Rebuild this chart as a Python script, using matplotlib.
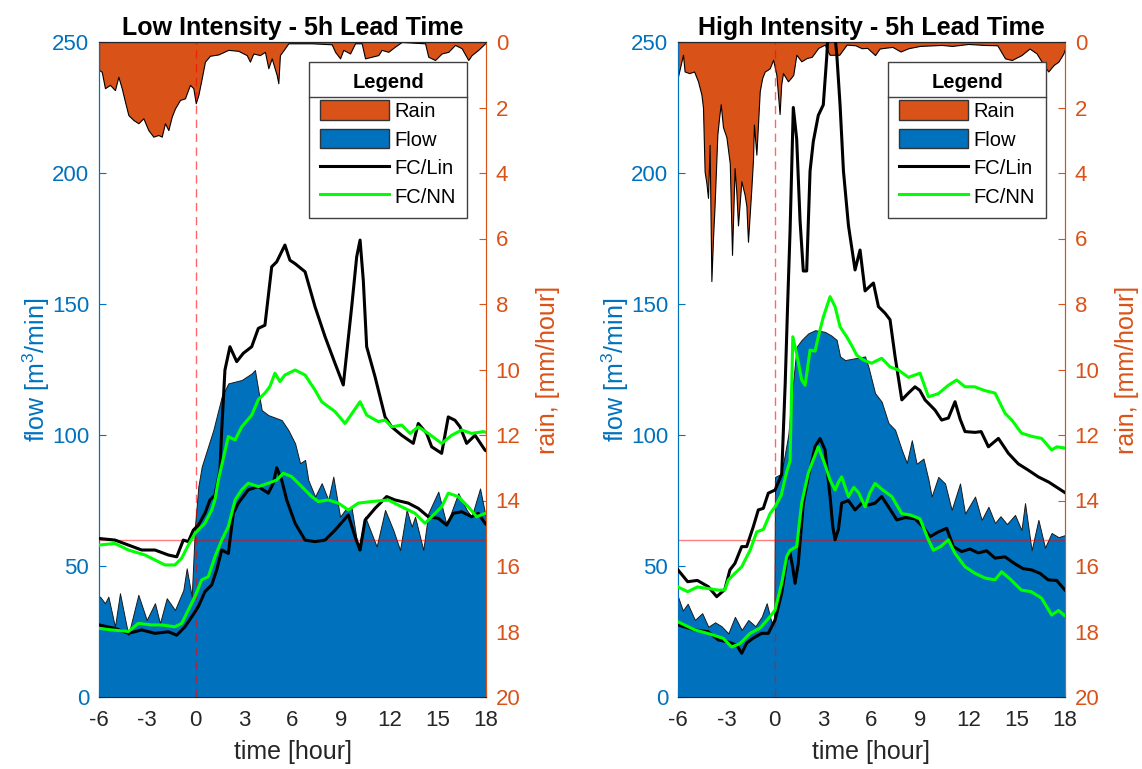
import numpy as np
import matplotlib
matplotlib.use('Agg')
import matplotlib.pyplot as plt
from matplotlib.patches import Patch
from matplotlib.lines import Line2D

plt.rcParams['font.family'] = ['Liberation Sans', 'DejaVu Sans']
plt.rcParams['mathtext.default'] = 'regular'
plt.rcParams['axes.unicode_minus'] = False

BLUE = '#0072BD'
ORANGE = '#D95319'
GREEN = '#00FF00'

# ---- data, (time [h], value) pairs ----
# Low intensity event
low_rain = [(-6.0, 0.85), (-5.83, 0.91), (-5.63, 1.41), (-5.32, 1.31), (-5.01, 1.47), (-4.80, 1.06),
            (-4.59, 1.41), (-4.39, 1.82), (-4.18, 2.23), (-3.87, 2.38), (-3.56, 2.48), (-3.25, 2.33),
            (-2.94, 2.69), (-2.63, 2.89), (-2.32, 2.84), (-2.11, 2.89), (-1.91, 2.48), (-1.70, 2.69),
            (-1.49, 2.28), (-1.29, 2.03), (-0.98, 1.77), (-0.67, 1.72), (-0.36, 1.31), (-0.15, 1.41),
            (0.0, 1.87), (0.16, 1.62), (0.37, 1.11), (0.57, 0.60), (0.88, 0.42), (1.40, 0.38),
            (2.02, 0.24), (2.64, 0.27), (3.16, 0.40), (3.36, 0.60), (3.57, 0.35), (3.98, 0.40),
            (4.29, 0.30), (4.50, 0.80), (4.71, 0.50), (5.02, 1.01), (5.12, 1.26), (5.22, 0.40),
            (5.53, 0.19), (5.74, 0.04), (7.19, 0.04), (8.43, 0.07), (8.64, 0.30), (8.95, 0.50),
            (9.15, 0.24), (9.57, 0.35), (9.88, 0.04), (10.29, 0.04), (10.50, 0.50), (10.91, 0.45),
            (11.32, 0.40), (11.53, 0.24), (11.94, 0.30), (12.36, 0.14), (12.77, 0.0), (14.22, 0.04),
            (14.42, 0.45), (14.84, 0.55), (15.25, 0.35), (15.66, 0.30), (16.08, 0.09), (16.49, 0.19),
            (16.90, 0.55), (17.11, 0.40), (17.52, 0.24), (17.94, 0.04), (18.0, 0.02)]
low_flow = [(-6.0, 38), (-5.94, 38.3), (-5.63, 35.8), (-5.42, 38.3), (-5.01, 26.8), (-4.70, 39.6),
            (-4.18, 23.6), (-3.56, 39.0), (-3.04, 29.4), (-2.53, 35.8), (-2.22, 28.1), (-1.80, 37.7),
            (-1.29, 33.2), (-0.77, 40.8), (-0.56, 49.1), (-0.25, 38.3), (-0.05, 65.0), (0.16, 80.3),
            (0.37, 87.9), (1.09, 101.9), (1.61, 114.6), (2.02, 119.7), (2.85, 121), (3.47, 123.5),
            (3.67, 124.8), (3.88, 117.1), (4.09, 109.5), (4.50, 107.6), (5.33, 105.7), (5.74, 101.9),
            (6.16, 96.8), (6.47, 89.2), (6.78, 90.5), (6.98, 82.8), (7.40, 76.5), (7.81, 81.6),
            (8.22, 75.2), (8.53, 84.1), (8.95, 68.8), (9.26, 71.4), (9.67, 72.0), (10.08, 56.1),
            (10.50, 68.8), (11.22, 57.4), (11.74, 71.4), (12.25, 63.7), (12.67, 56.1), (13.08, 71.4),
            (13.39, 65), (13.60, 68.8), (14.11, 56.1), (14.42, 70.1), (15.04, 78.4), (15.56, 65.6),
            (16.28, 77.8), (16.80, 71.4), (17.11, 68.8), (17.63, 79.6), (17.94, 70.1), (18.0, 69)]
low_lin_up = [(-6.0, 60.5), (-5.01, 59.9), (-4.18, 58.0), (-3.35, 56.1), (-2.53, 56.1), (-1.70, 54.2),
              (-1.18, 53.5), (-0.77, 59.9), (-0.46, 59.3), (-0.15, 63.7), (0.16, 65.6), (0.57, 70.1),
              (0.88, 75.2), (1.19, 77.1), (1.50, 86.6), (1.61, 101.9), (1.81, 124.8), (2.12, 133.7),
              (2.54, 128), (2.95, 131.2), (3.47, 133.7), (3.88, 140.7), (4.29, 141.9), (4.71, 164.2),
              (5.02, 166.1), (5.53, 172.5), (5.84, 166.7), (6.16, 165.4), (6.78, 162.3), (7.40, 148.9),
              (8.02, 137.5), (8.64, 127.3), (9.15, 119.1), (9.67, 148.9), (9.98, 168), (10.19, 174.4),
              (10.39, 159.1), (10.60, 133.7), (11.12, 122.2), (11.74, 106.9), (12.15, 103.1),
              (12.77, 99.9), (13.49, 96.8), (13.80, 104.4), (14.32, 100.6), (14.63, 95.5), (15.25, 93),
              (15.66, 106.9), (16.08, 105.6), (16.39, 103.1), (16.80, 96.8), (17.32, 99.9),
              (17.94, 94.2), (18.0, 94)]
low_lin_lo = [(-6.0, 27.5), (-5.01, 26.2), (-4.18, 24.3), (-3.35, 25.6), (-2.53, 24.3), (-1.70, 24.9),
              (-1.18, 23.6), (-0.67, 26.8), (-0.25, 30.6), (0.16, 34.5), (0.57, 40.2), (0.99, 42.8),
              (1.30, 48.5), (1.61, 56.1), (2.02, 54.8), (2.33, 70.1), (2.64, 74), (3.26, 79.1),
              (3.88, 80.3), (4.50, 77.8), (4.81, 81.6), (5.02, 87.5), (5.33, 82.8), (5.64, 75.2),
              (6.16, 66.3), (6.78, 59.9), (7.40, 59.3), (8.02, 59.9), (8.64, 63.7), (9.46, 69.5),
              (9.88, 61.2), (10.19, 56.1), (10.50, 67.5), (11.12, 72.0), (11.84, 76.5), (12.36, 75.2),
              (13.18, 74), (13.80, 72.0), (14.42, 68.8), (15.04, 68.2), (15.56, 65.6), (15.97, 70.1),
              (16.49, 70.7), (17.11, 68.8), (17.52, 70.1), (17.94, 66.3), (18.0, 66)]
low_nn_up = [(-6.0, 58.0), (-5.01, 58.6), (-4.18, 56.1), (-3.15, 54.2), (-2.53, 52.3), (-1.91, 50.4),
             (-1.29, 50.4), (-0.87, 53), (-0.46, 58.0), (-0.05, 62.4), (0.57, 66.3), (0.99, 71.4),
             (1.19, 75.2), (1.40, 82.8), (2.02, 99.4), (2.44, 98.1), (2.85, 103.1), (3.47, 107.6),
             (3.88, 113.5), (4.29, 116), (4.60, 118.5), (4.91, 123.6), (5.22, 120.4), (5.53, 122.9),
             (6.16, 124.8), (6.78, 122.9), (7.40, 117.1), (7.81, 112.7), (8.64, 108.9), (9.26, 104.4),
             (10.19, 112.7), (10.60, 107.6), (11.32, 105.1), (11.74, 105.7), (12.15, 103.1),
             (12.77, 103.8), (13.29, 100.6), (13.80, 103.1), (14.42, 100.6), (15.25, 96.8),
             (15.87, 99.9), (16.49, 101.9), (17.11, 100.6), (17.83, 101.3), (18.0, 101)]
low_nn_lo = [(-6.0, 26.2), (-5.21, 25.6), (-4.18, 25), (-3.56, 28.1), (-2.73, 27.5), (-2.11, 27.5),
             (-1.29, 26.8), (-0.87, 28.1), (-0.46, 33.2), (-0.05, 38.3), (0.37, 44.7), (0.78, 45.9),
             (1.19, 53.5), (1.61, 59.9), (2.02, 65.0), (2.44, 75.2), (2.85, 79.1), (3.26, 81.6),
             (3.88, 80.3), (4.50, 81.6), (5.02, 82.8), (5.43, 85.4), (5.95, 84.1), (6.57, 80.3),
             (7.19, 76.5), (7.60, 74.6), (8.22, 75.2), (8.84, 74), (9.46, 71.4), (10.08, 74),
             (10.91, 74.6), (11.94, 75.2), (12.77, 72.6), (13.60, 70.1), (14.22, 66.3), (14.63, 68.8),
             (15.25, 72.6), (15.66, 77.8), (16.28, 76.5), (16.90, 72.6), (17.42, 68.8), (17.94, 70.1),
             (18.0, 70)]

# High intensity event
high_rain = [(-6.0, 1.05), (-5.69, 0.39), (-5.59, 0.9), (-5.3, 0.95), (-5.0, 0.9), (-4.76, 1.2),
             (-4.55, 1.6), (-4.45, 2.0), (-4.35, 3.95), (-4.24, 4.3), (-4.14, 4.76), (-4.04, 3.14),
             (-3.93, 7.3), (-3.83, 6.0), (-3.73, 4.97), (-3.56, 2.83), (-3.45, 2.3), (-3.35, 1.9),
             (-3.21, 2.6), (-3.0, 2.9), (-2.79, 3.7), (-2.65, 6.5), (-2.49, 3.85), (-2.38, 4.6),
             (-2.28, 5.6), (-2.07, 4.25), (-1.87, 4.66), (-1.76, 5.0), (-1.66, 6.1), (-1.45, 4.46),
             (-1.35, 3.6), (-1.29, 2.52), (-1.14, 3.44), (-0.93, 1.5), (-0.78, 1.1), (-0.62, 0.9),
             (-0.45, 0.85), (-0.31, 0.8), (-0.1, 0.54), (0.1, 1.0), (0.2, 1.6), (0.3, 2.2), (0.4, 1.3),
             (0.51, 0.95), (0.82, 1.2), (1.0, 1.1), (1.15, 1.0), (1.34, 0.39), (1.65, 0.59),
             (1.98, 0.49), (2.3, 0.45), (2.70, 0.18), (3.1, 0.08), (3.4, 0.39), (4.0, 0.39),
             (4.46, 0.08), (5.0, 0.1), (5.39, 0.19), (5.74, 0.18), (6.22, 0.4), (6.5, 0.2),
             (6.78, 0.18), (7.3, 0.15), (7.8, 0.29), (8.29, 0.19), (9.0, 0.12), (10.35, 0.09),
             (11.0, 0.12), (12.0, 0.06), (13.0, 0.09), (13.8, 0.1), (14.28, 0.5), (14.7, 0.55),
             (15.3, 0.4), (15.8, 0.2), (16.24, 0.35), (16.55, 0.6), (16.96, 0.9), (17.3, 0.7),
             (17.59, 0.6), (17.9, 0.35), (18.0, 0.2)]
high_flow = [(-6.0, 38.3), (-5.7, 33), (-5.4, 35.6), (-4.95, 29.4), (-4.5, 32), (-4.12, 26.8),
             (-3.7, 28.5), (-3.3, 27), (-2.88, 24.3), (-2.47, 30.6), (-2.05, 25.6), (-1.64, 29.4),
             (-1.2, 27), (-0.81, 30.6), (-0.5, 35.8), (-0.19, 28.2), (-0.03, 30), (0.02, 84),
             (0.35, 85), (0.55, 90), (0.84, 100), (1.05, 114.6), (1.36, 133.7), (1.67, 136.3),
             (2.08, 138.8), (2.5, 140), (3.1, 139.4), (3.5, 138), (3.84, 136.3), (4.05, 130),
             (4.36, 128.6), (4.98, 129.3), (5.6, 130), (5.81, 126), (6.22, 116), (6.63, 112.7),
             (7.05, 104.6), (7.46, 102), (7.88, 94.3), (8.19, 89.3), (8.5, 98), (8.8, 89), (9.22, 91),
             (9.53, 83), (9.73, 76.5), (10.14, 84), (10.56, 81.5), (10.97, 71.4), (11.49, 81.5),
             (11.8, 70), (12.42, 76.5), (12.83, 67.6), (13.25, 72.6), (13.66, 66.4), (14.0, 69),
             (14.4, 66), (14.9, 69.5), (15.3, 63.7), (15.52, 74), (15.93, 56), (16.35, 67.6),
             (16.76, 57), (17.17, 62.6), (17.6, 61), (18.0, 61.8)]
high_lin_up = [(-6.0, 48.5), (-5.4, 44), (-4.8, 44.5), (-4.12, 42.1), (-3.6, 38.3), (-3.1, 41),
               (-2.78, 48.5), (-2.47, 51), (-2.05, 57.4), (-1.74, 57.4), (-1.33, 65), (-1.02, 71.4),
               (-0.71, 72), (-0.40, 77.8), (0.02, 79), (0.43, 85), (0.65, 120), (0.8, 150), (0.95, 178),
               (1.15, 225), (1.36, 213), (1.57, 181.7), (1.77, 162.6), (1.98, 162.6), (2.19, 200.8),
               (2.39, 212), (2.70, 222), (3.01, 226), (3.22, 244), (3.35, 258), (3.5, 262), (3.65, 258),
               (3.85, 245), (4.05, 226), (4.26, 200.8), (4.57, 180), (4.98, 163), (5.29, 170.6),
               (5.6, 155), (6.01, 157.4), (6.12, 158), (6.43, 149), (6.84, 146.5), (7.15, 144),
               (7.46, 130), (7.88, 113.4), (8.29, 116), (8.70, 118.4), (9.0, 117), (9.32, 113.4),
               (9.94, 109.5), (10.35, 105.7), (10.77, 106.5), (11.18, 112.7), (11.5, 106),
               (11.8, 101.3), (12.42, 101), (12.8, 101.3), (13.25, 95.5), (13.87, 98.7), (14.49, 93),
               (15.1, 89), (15.72, 86.6), (16.35, 84), (17.0, 82), (18.0, 78)]
high_lin_lo = [(-6.0, 27.5), (-4.95, 25.6), (-4.12, 24.9), (-3.5, 21.8), (-2.9, 21), (-2.36, 19.8),
               (-2.05, 16.7), (-1.74, 20.6), (-1.33, 22.5), (-0.81, 24.3), (-0.4, 24.3), (0.02, 29.4),
               (0.43, 39.6), (0.74, 52.3), (0.95, 54.9), (1.1, 50), (1.26, 43.4), (1.46, 51),
               (1.77, 74), (2.08, 84), (2.5, 95.5), (2.81, 98.7), (3.12, 94.3), (3.32, 82.8),
               (3.43, 76.5), (3.6, 65), (3.74, 60), (3.95, 64), (4.15, 74), (4.57, 75), (4.98, 71.4),
               (5.4, 74), (5.81, 73.3), (6.22, 74), (6.63, 76.5), (7.05, 72.6), (7.57, 67.6),
               (8.1, 68.5), (8.7, 68), (9.22, 64.8), (9.63, 61.2), (10.14, 63), (10.66, 64.4),
               (11.08, 57.4), (11.59, 55.5), (12.1, 56.5), (12.62, 55), (13.14, 55.8), (13.66, 53),
               (14.28, 53.5), (14.9, 50.8), (15.4, 49), (15.93, 48.5), (16.45, 47.2), (16.96, 44.7),
               (17.48, 44.5), (18.0, 40.8)]
high_nn_up = [(-6.0, 42), (-5.4, 40.2), (-4.8, 42), (-4.12, 41.4), (-3.5, 40.8), (-3.1, 40.8),
              (-2.88, 44.7), (-2.47, 47.2), (-2.05, 49.7), (-1.53, 56), (-1.12, 63), (-0.7, 64),
              (-0.29, 70), (0.02, 72.6), (0.4, 77), (0.74, 86), (0.95, 90), (1.12, 137.5), (1.36, 131),
              (1.67, 121), (1.88, 119), (2.19, 132.4), (2.5, 132), (2.70, 137.5), (3.01, 145),
              (3.43, 152.8), (3.74, 149), (4.05, 141.3), (4.46, 137.5), (4.77, 134.2), (5.08, 130.5),
              (5.5, 128.6), (6.01, 127.4), (6.63, 129.3), (7.15, 126), (7.67, 124.8), (8.29, 122),
              (9.01, 123.6), (9.53, 114.6), (10.15, 115.8), (10.77, 119), (11.28, 121), (11.8, 118.4),
              (12.4, 118.4), (13.0, 117), (13.66, 116), (14.28, 108.3), (14.7, 105.7), (15.3, 100.7),
              (15.93, 99.5), (16.55, 98.7), (17.17, 94.3), (17.5, 95.5), (18.0, 95)]
high_nn_lo = [(-6.0, 28.7), (-4.95, 25.6), (-4.0, 24), (-3.2, 22.4), (-2.67, 19.1), (-2.15, 20.4),
              (-1.53, 24.3), (-0.91, 26.3), (-0.29, 30.7), (0.02, 33.2), (0.43, 43.4), (0.74, 53.6),
              (0.95, 56), (1.36, 57.4), (1.67, 74), (2.08, 85.4), (2.29, 89), (2.70, 95.5), (3.1, 89),
              (3.43, 82.8), (3.74, 79), (3.95, 82), (4.15, 84), (4.57, 76.5), (4.9, 80), (5.2, 78),
              (5.6, 72.6), (5.9, 78), (6.22, 81.5), (6.7, 79), (7.26, 76.5), (7.88, 70), (8.4, 69.5),
              (9.01, 68), (9.53, 60), (9.84, 56), (10.3, 57.5), (10.77, 60), (11.18, 54.8),
              (11.8, 49.7), (12.42, 47.2), (13.04, 45.4), (13.66, 44.7), (14.07, 47.8), (14.6, 45),
              (15.3, 40.8), (15.9, 40.2), (16.55, 37.7), (17.17, 31.3), (17.6, 33), (18.0, 31)]

titles = ['Low Intensity - 5h Lead Time', 'High Intensity - 5h Lead Time']
xticks = list(range(-6, 19, 3))
flow_ticks = [0, 50, 100, 150, 200, 250]
rain_ticks = list(range(0, 21, 2))
threshold = 60


def xy(pairs):
    a = np.array(pairs, dtype=float)
    return a[:, 0], a[:, 1]


def panel(rect, title, rain, flow, lin_up, lin_lo, nn_up, nn_lo):
    ax_r = fig.add_axes(rect)
    ax_f = ax_r.twinx()
    # rain axis on the right (drawn below), flow axis on the left (drawn on top)
    ax_r.yaxis.tick_right()
    ax_r.yaxis.set_label_position('right')
    ax_f.yaxis.tick_left()
    ax_f.yaxis.set_label_position('left')

    t, r = xy(rain)
    ax_r.fill_between(t, 0, r, facecolor=ORANGE, edgecolor='k', linewidth=0.8)
    ax_r.set_ylim(20, 0)
    ax_r.set_xlim(-6, 18)
    ax_r.set_xticks(xticks)
    ax_r.set_yticks(rain_ticks)

    t, f = xy(flow)
    ax_f.fill_between(t, 0, f, facecolor=BLUE, edgecolor='#1a1a1a', linewidth=0.7, zorder=1)
    ax_f.axhline(threshold, color='red', alpha=0.5, lw=1, zorder=1.5)
    ax_f.axvline(0, color='red', alpha=0.6, lw=1, ls=(0, (6, 4)), zorder=1.5)
    for s in (lin_up, lin_lo):
        ax_f.plot(*xy(s), color='k', lw=2.2, zorder=3)
    for s in (nn_up, nn_lo):
        ax_f.plot(*xy(s), color=GREEN, lw=2.2, zorder=3)
    ax_f.set_ylim(0, 250)
    ax_f.set_yticks(flow_ticks)
    ax_f.set_xlim(-6, 18)

    for a in (ax_r, ax_f):
        a.spines['left'].set_color(BLUE)
        a.spines['right'].set_color(ORANGE)
        a.spines['top'].set_color('#262626')
        a.spines['bottom'].set_color('#262626')
    ax_r.tick_params(axis='x', direction='in', colors='#262626', labelsize=16, length=5, pad=9)
    ax_r.tick_params(axis='y', direction='in', colors=ORANGE, labelsize=16, length=5, pad=7)
    ax_f.tick_params(axis='y', direction='in', colors=BLUE, labelsize=16, length=5, pad=7)

    ax_r.set_xlabel('time [hour]', fontsize=18, color='#262626', labelpad=7)
    ax_r.set_ylabel('rain, [mm/hour]', fontsize=18, color=ORANGE, labelpad=11)
    ax_f.set_ylabel('flow [m$^3$/min]', fontsize=18, color=BLUE, labelpad=0)
    ax_f.set_title(title, fontsize=18, fontweight='bold', pad=5)

    handles = [Patch(facecolor=ORANGE, edgecolor='#333333', lw=1),
               Patch(facecolor=BLUE, edgecolor='#333333', lw=1),
               Line2D([], [], color='k', lw=2.2),
               Line2D([], [], color=GREEN, lw=2.2)]
    leg = ax_f.legend(handles, ['Rain', 'Flow', 'FC/Lin', 'FC/NN'], title='Legend',
                      title_fontproperties={'weight': 'bold', 'size': 14.5},
                      loc='upper right', bbox_to_anchor=(0.951, 0.969), borderaxespad=0,
                      fontsize=14.5, frameon=True, fancybox=False, framealpha=1,
                      edgecolor='#404040', handlelength=3.4, handleheight=1.1,
                      handletextpad=0.3, labelspacing=0.4, borderpad=0.55)
    leg.get_frame().set_linewidth(1.0)
    leg.set_zorder(10)
    return leg


fig = plt.figure(figsize=(11.42, 7.69), dpi=100)
w, h = 387 / 1142, 655 / 769
legs = [panel([99 / 1142, 1 - 697 / 769, w, h], titles[0], low_rain, low_flow,
              low_lin_up, low_lin_lo, low_nn_up, low_nn_lo),
        panel([678 / 1142, 1 - 697 / 769, w, h], titles[1], high_rain, high_flow,
              high_lin_up, high_lin_lo, high_nn_up, high_nn_lo)]

# separator line under the legend title, like the original
fig.canvas.draw()
renderer = fig.canvas.get_renderer()
inv = fig.transFigure.inverted()
for leg in legs:
    fb = leg.get_frame().get_window_extent(renderer)
    tb = leg.get_title().get_window_extent(renderer)
    y = tb.y0 - 5
    x0, y0 = inv.transform((fb.x0, y))
    x1, _ = inv.transform((fb.x1, y))
    fig.add_artist(Line2D([x0, x1], [y0, y0], transform=fig.transFigure,
                          color='#404040', lw=1.0, zorder=20))

fig.savefig('out.png', dpi=100)
